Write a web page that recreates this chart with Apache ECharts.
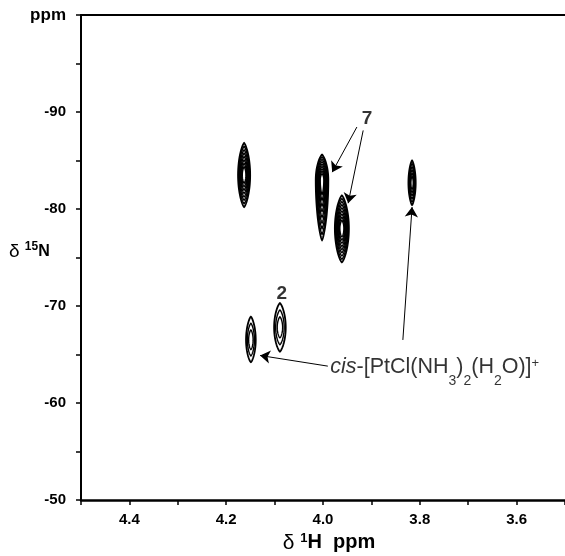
<!DOCTYPE html>
<html>
<head>
<meta charset="utf-8">
<script src="https://cdn.jsdelivr.net/npm/echarts@6/dist/echarts.min.js"></script>
<style>
  html, body { margin: 0; padding: 0; background: #fff; }
  #chart { width: 565px; height: 556px; }
</style>
</head>
<body>
<div id="chart"></div>
<script>
  // cross peaks, 1H shift / 15N shift (ppm)
  var peakH = [4.163, 4.002, 3.961, 3.816, 4.149, 4.089];
  var peakNTop = [-86.8, -85.6, -81.4, -85.0, -68.9, -70.3];
  var peakNBottom = [-80.2, -76.8, -74.5, -80.4, -64.2, -65.3];
  var peakNCore = [-83.5, -83.0, -78.0, -82.7, -66.5, -67.8];
  var peakWidthH = [0.025, 0.026, 0.029, 0.015, 0.020, 0.024];
  var contourLevels = [8, 9, 9, 6, 3, 3];

  // annotations (data coordinates)
  var arrowFrom = [[3.930, -88.45], [3.917, -88.1], [3.835, -66.5], [3.990, -63.8]];
  var arrowTo = [[3.981, -83.8], [3.948, -80.6], [3.816, -80.2], [4.130, -64.9]];
  var labelText = ['7', '2', 'cis'];
  var labelPos = [[3.909, -89.3], [4.085, -71.3], [3.985, -63.7]];

  var font = '"Liberation Sans", Arial, sans-serif';
  var chart = echarts.init(document.getElementById('chart'));

  function renderPeak(params, api) {
    var h = api.value(0), top = api.value(1), bot = api.value(2);
    var core = api.value(3), w = api.value(4), n = api.value(5);
    var children = [];
    for (var k = 0; k < n; k++) {
      var s = 1 - k / n * 0.85;
      var sw = 1 - k / n * 0.8;
      var pts = [];
      for (var i = 0; i < 64; i++) {
        var t = i / 64 * Math.PI * 2;
        var c = Math.cos(t), sn = Math.sin(t);
        var dx = w / 2 * sw * (c < 0 ? -1 : 1) * Math.pow(Math.abs(c), 1.5);
        var dy = sn < 0 ? (core - top) * sn : (bot - core) * sn;
        pts.push(api.coord([h + dx, core + dy * s]));
      }
      children.push({
        type: 'polygon',
        shape: { points: pts },
        style: { fill: 'none', stroke: '#000', lineWidth: k === 0 ? 1.8 : 1.4 }
      });
    }
    return { type: 'group', children: children };
  }

  var peakData = peakH.map(function (h, i) {
    return [h, peakNTop[i], peakNBottom[i], peakNCore[i], peakWidthH[i], contourLevels[i]];
  });

  var arrows = arrowFrom.map(function (p, i) {
    return { coords: [p, arrowTo[i]] };
  });

  var labelData = labelText.map(function (t, i) {
    if (t === 'cis') {
      return {
        value: labelPos[i],
        label: {
          position: 'right',
          distance: 0,
          formatter: '{i|cis}{n|-[PtCl(NH}{s|3}{n|)}{s|2}{n|(H}{s|2}{n|O)]}{p|+}',
          rich: {
            i: { fontFamily: font, fontSize: 21.5, fontStyle: 'italic', lineHeight: 22, color: '#000' },
            n: { fontFamily: font, fontSize: 21.5, lineHeight: 22, color: '#000' },
            s: { fontFamily: font, fontSize: 14, lineHeight: 14, padding: [28, 0, 0, 0], color: '#000' },
            p: { fontFamily: font, fontSize: 13, lineHeight: 13, padding: [0, 0, 8, 0], color: '#000' }
          }
        }
      };
    }
    return {
      value: labelPos[i],
      label: {
        position: 'inside',
        formatter: t,
        fontFamily: font,
        fontSize: 19,
        fontWeight: 'bold',
        color: '#000'
      }
    };
  });

  chart.setOption({
    animation: false,
    backgroundColor: '#fff',
    grid: { left: 81, top: 15, right: 0, bottom: 56, outerBoundsMode: 'none', containLabel: false },
    graphic: [{
      type: 'text',
      left: 9,
      top: 241,
      style: {
        text: '{d|δ }{s|15}{b|N}',
        rich: {
          d: { fontFamily: font, fontSize: 19, fill: '#000', lineHeight: 22 },
          s: { fontFamily: font, fontSize: 12, fontWeight: 'bold', fill: '#000', lineHeight: 12, padding: [0, 0, 9, 0] },
          b: { fontFamily: font, fontSize: 16, fontWeight: 'bold', fill: '#000', lineHeight: 22 }
        }
      }
    }],
    xAxis: [{
      type: 'value',
      min: 3.5,
      max: 4.5,
      interval: 0.1,
      inverse: true,
      position: 'bottom',
      name: '{d|δ }{s|1}{b|H  ppm}',
      nameLocation: 'middle',
      nameGap: 31,
      nameTextStyle: {
        padding: [0, 0, 0, 12],
        rich: {
          d: { fontFamily: font, fontSize: 21, color: '#000', lineHeight: 22 },
          s: { fontFamily: font, fontSize: 13, fontWeight: 'bold', color: '#000', lineHeight: 13, padding: [0, 0, 9, 0] },
          b: { fontFamily: font, fontSize: 20, fontWeight: 'bold', color: '#000', lineHeight: 22 }
        }
      },
      axisLine: { onZero: false, lineStyle: { color: '#000', width: 2.5 } },
      axisTick: { show: true, length: 5, lineStyle: { color: '#000', width: 1.5 } },
      axisLabel: {
        margin: 12,
        fontFamily: font,
        fontSize: 15,
        fontWeight: 'bold',
        color: '#000',
        formatter: function (v) {
          var d = Math.round(v * 10);
          if (d % 2 !== 0) return '';
          return (d / 10).toFixed(1);
        }
      },
      splitLine: { show: false }
    }, {
      type: 'value',
      min: 3.5,
      max: 4.5,
      inverse: true,
      position: 'top',
      axisLine: { onZero: false, lineStyle: { color: '#000', width: 2 } },
      axisTick: { show: false },
      axisLabel: { show: false },
      splitLine: { show: false }
    }],
    yAxis: {
      type: 'value',
      min: -100,
      max: -50,
      interval: 5,
      inverse: true,
      axisLine: { onZero: false, lineStyle: { color: '#000', width: 2 } },
      axisTick: { show: true, length: 5, lineStyle: { color: '#000', width: 1.5 } },
      axisLabel: {
        margin: 15,
        fontFamily: font,
        fontSize: 15,
        fontWeight: 'bold',
        color: '#000',
        formatter: function (v) {
          if (v === -100) return '{u|ppm}';
          if (v % 10 !== 0) return '';
          return String(v);
        },
        rich: {
          u: { fontFamily: font, fontSize: 17, fontWeight: 'bold', color: '#000' }
        }
      },
      splitLine: { show: false }
    },
    series: [{
      type: 'custom',
      coordinateSystem: 'cartesian2d',
      renderItem: renderPeak,
      encode: { x: 0, y: [1, 2] },
      data: peakData,
      silent: true
    }, {
      type: 'lines',
      coordinateSystem: 'cartesian2d',
      silent: true,
      symbol: ['none', 'arrow'],
      symbolSize: 10,
      lineStyle: { color: '#000', width: 1, opacity: 1 },
      data: arrows
    }, {
      type: 'scatter',
      symbolSize: 0,
      silent: true,
      label: { show: true },
      data: labelData
    }]
  });
</script>
</body>
</html>
